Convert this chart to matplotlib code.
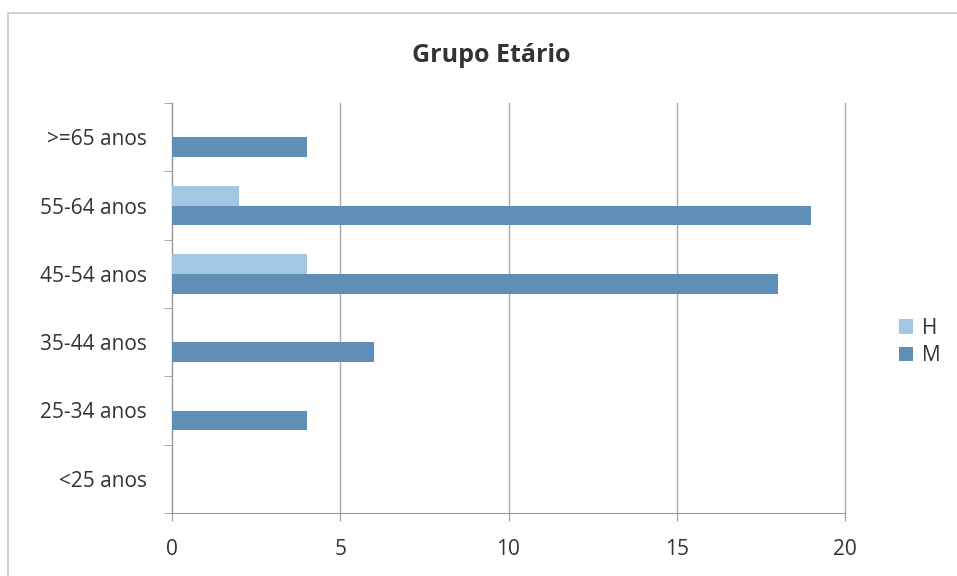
import matplotlib.pyplot as plt
import numpy as np
from matplotlib.patches import Rectangle

categories = ['<25 anos', '25-34 anos', '35-44 anos', '45-54 anos', '55-64 anos', '>=65 anos']
h_values = [0, 0, 0, 4, 2, 0]
m_values = [0, 4, 6, 18, 19, 4]
xticks = [0, 5, 10, 15, 20]

plt.rcParams['font.family'] = ['Open Sans', 'DejaVu Sans']

fig = plt.figure(figsize=(9.57, 5.76), dpi=100)
fig.patches.append(Rectangle((8/957, -0.1), 1.1, 1.1 - 13/576, transform=fig.transFigure,
                             fill=False, edgecolor='#c8c8c8', linewidth=1.2))

ax = fig.add_axes([172/957, 63/576, (845-172)/957, (513-103)/576])
y = np.arange(len(categories))
bh = 0.29
ax.barh(y + 0.145, h_values, height=bh, color='#a3c6e2', label='H', zorder=3)
ax.barh(y - 0.145, m_values, height=bh, color='#5f8fb6', label='M', zorder=3)

ax.set_xlim(0, 20)
ax.set_ylim(-0.5, len(categories) - 0.5)
ax.set_xticks(xticks)
ax.set_yticks(y)
ax.set_yticklabels(categories)
ax.set_yticks(np.arange(-0.5, len(categories)), minor=True)
ax.tick_params(axis='y', which='major', length=0, pad=18, labelsize=15, labelcolor='#333333')
ax.tick_params(axis='y', which='minor', length=6, color='#999999')
ax.tick_params(axis='x', length=6, color='#999999', labelsize=15, labelcolor='#333333', pad=13)
ax.grid(axis='x', color='#a8a8a8', linewidth=1, zorder=0)
for gl in ax.get_xgridlines():
    gl.set_clip_on(False)
for s in ['top', 'right']:
    ax.spines[s].set_visible(False)
for s in ['left', 'bottom']:
    ax.spines[s].set_color('#999999')

fig.text(491/957, 1 - 56/576, 'Grupo Etário', ha='center', va='center',
         fontsize=18, fontweight='bold', color='#333333')

leg = fig.legend(loc='center left', bbox_to_anchor=(880/957, 1 - 342/576), frameon=False,
                 fontsize=15, handlelength=0.7, handleheight=0.7, labelspacing=0.3,
                 handletextpad=0.4)
for t in leg.get_texts():
    t.set_color('#333333')

fig.savefig('out.png', dpi=100)
